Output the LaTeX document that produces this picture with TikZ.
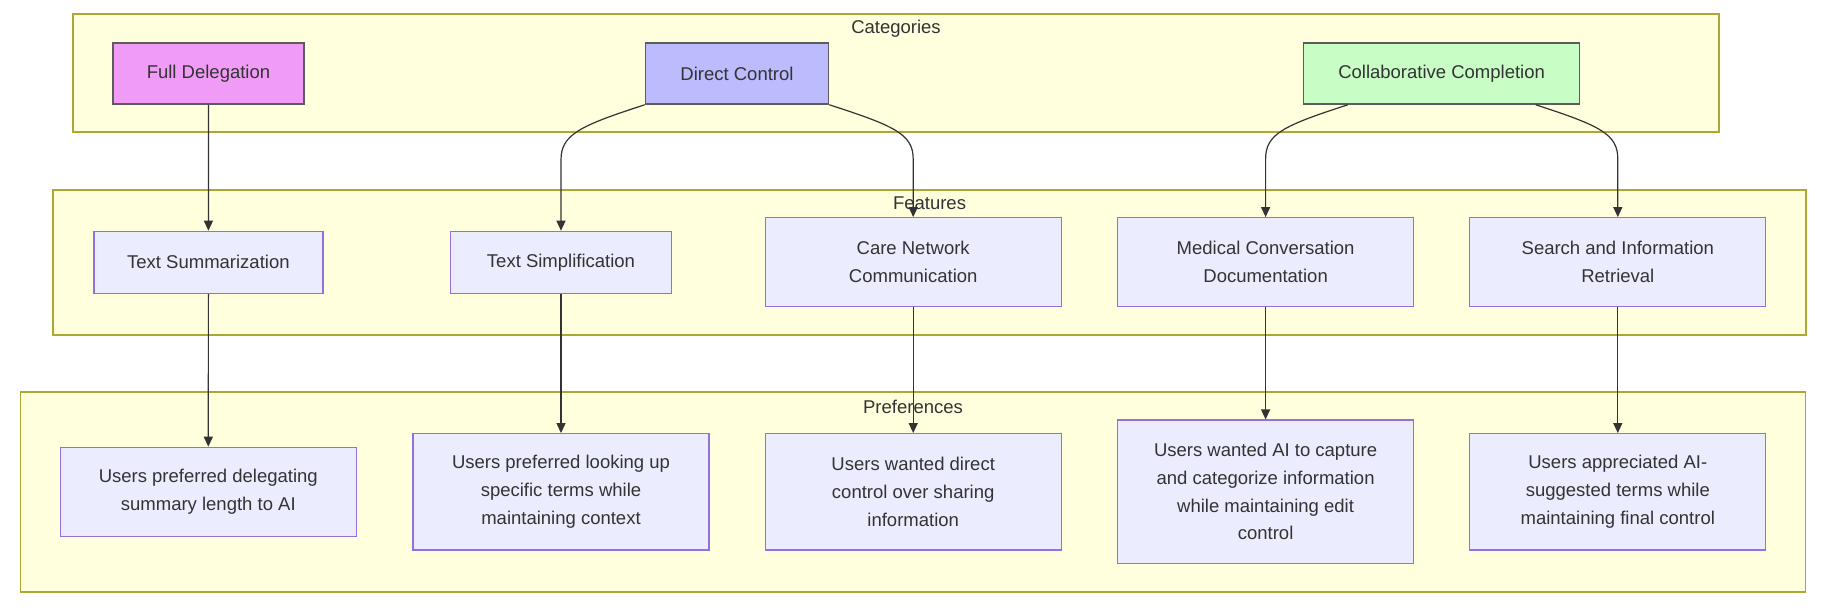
\documentclass[tikz,border=0pt]{standalone}
\usepackage{fontspec}
\setmainfont{Liberation Sans}
\usetikzlibrary{arrows.meta,calc}
\definecolor{clfill}{HTML}{FFFFDE}
\definecolor{clline}{HTML}{AAAA33}
\definecolor{ndfill}{HTML}{ECECFF}
\definecolor{ndline}{HTML}{9370DB}
\definecolor{pinkc}{HTML}{F09CF6}
\definecolor{bluec}{HTML}{BBBBFD}
\definecolor{greenc}{HTML}{C9FDC6}
\definecolor{edgec}{HTML}{333333}
\tikzset{
  x=1pt, y=-1pt,
  every node/.style={font=\fontsize{18.5}{27.7}\selectfont, text=edgec},
  cluster/.style={draw=clline, fill=clfill, line width=1.1pt, inner sep=0pt},
  clabel/.style={inner sep=0pt, anchor=center},
  cat/.style={draw=edgec!80, line width=1.6pt, inner sep=0pt, minimum height=61pt, align=center},
  feat/.style={draw=ndline, fill=ndfill, line width=1.2pt, inner sep=0pt, align=center},
  link/.style={draw=edgec, line width=1.2pt, -{Triangle[length=10pt,width=9pt]}},
}
\begin{document}
\begin{tikzpicture}
\useasboundingbox (0,0) rectangle (1832,610);
\fill[white] (0,0) rectangle (1832,610);
% clusters
\node[cluster, minimum width=1646pt, minimum height=118pt] (catbox) at (896,73) {};
\node[clabel] (catlab) at (896,28.5) {Categories};
\node[cluster, minimum width=1753pt, minimum height=145pt] (featbox) at (929.5,262.5) {};
\node[clabel] (featlab) at (929.5,203) {Features};
\node[cluster, minimum width=1785pt, minimum height=200pt] (prefbox) at (913,492) {};
\node[clabel] (preflab) at (913,406.5) {Preferences};
% categories
\node[cat, fill=pinkc, minimum width=191pt] (fd) at (208.5,73.5) {Full Delegation};
\node[cat, fill=bluec, minimum width=183pt] (dc) at (737,73.5) {Direct Control};
\node[cat, fill=greenc, minimum width=276pt] (cc) at (1441.6,73.5) {Collaborative Completion};
% features
\node[feat, minimum width=229pt, minimum height=62pt] (ts) at (208.4,262.3) {Text Summarization};
\node[feat, minimum width=221pt, minimum height=62pt] (tsi) at (561,262.3) {Text Simplification};
\node[feat, minimum width=296pt, minimum height=88.6pt] (cn) at (913.2,262) {Care Network\\Communication};
\node[feat, minimum width=296pt, minimum height=88.6pt] (mcd) at (1265.6,262) {Medical Conversation\\Documentation};
\node[feat, minimum width=296pt, minimum height=88.6pt] (sir) at (1617.8,262) {Search and Information\\Retrieval};
% preferences
\node[feat, minimum width=296pt, minimum height=89pt] (p1) at (208.3,491.8) {Users preferred delegating\\summary length to AI};
\node[feat, minimum width=296pt, minimum height=116.3pt] (p2) at (561,491.8) {Users preferred looking up\\specific terms while\\maintaining context};
\node[feat, minimum width=296pt, minimum height=116.3pt] (p3) at (913.2,491.8) {Users wanted direct\\control over sharing\\information};
\node[feat, minimum width=296pt, minimum height=143.3pt] (p4) at (1265.6,491.7) {Users wanted AI to capture\\and categorize information\\while maintaining edit\\control};
\node[feat, minimum width=296pt, minimum height=116.3pt] (p5) at (1617.8,491.8) {Users appreciated AI-\\suggested terms while\\maintaining final control};
% edges categories -> features
\draw[link] (fd.south) -- (ts.north);
\draw[link] (dc.south west) .. controls ($(dc.south west)+(-65,21)$) and ($(tsi.north)+(0,-96)$) .. ($(tsi.north)+(0,-71)$) -- (tsi.north);
\draw[link] (dc.south east) .. controls ($(dc.south east)+(65,21)$) and ($(cn.north)+(0,-83)$) .. ($(cn.north)+(0,-58)$) -- (cn.north);
\draw[link] ($(cc.south west)+(45,0)$) .. controls ($(cc.south west)+(-20,21)$) and ($(mcd.north)+(0,-83)$) .. ($(mcd.north)+(0,-58)$) -- (mcd.north);
\draw[link] ($(cc.south east)+(-44.6,0)$) .. controls ($(cc.south east)+(20,21)$) and ($(sir.north)+(0,-83)$) .. ($(sir.north)+(0,-58)$) -- (sir.north);
% edges features -> preferences
\draw[link] (ts.south) -- (p1.north);
\draw[link] (tsi.south) -- (p2.north);
\draw[link] (cn.south) -- (p3.north);
\draw[link] (mcd.south) -- (p4.north);
\draw[link] (sir.south) -- (p5.north);
\end{tikzpicture}
\end{document}
